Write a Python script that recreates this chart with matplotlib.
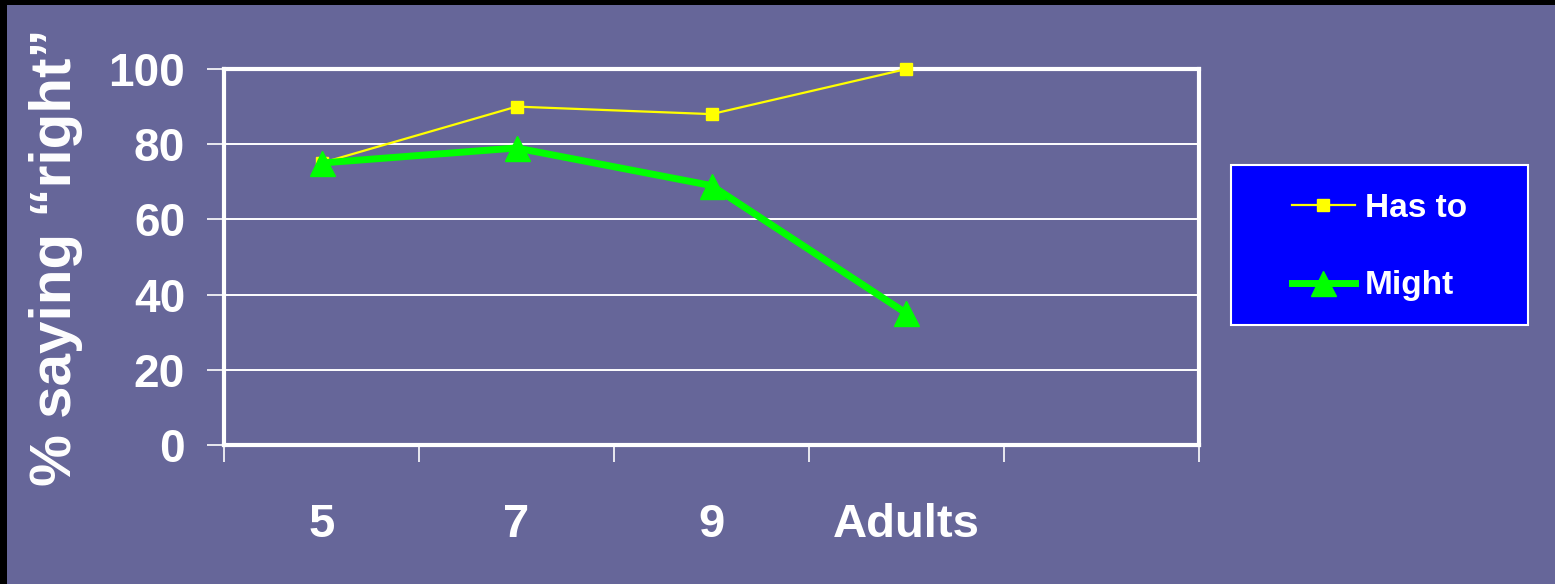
import numpy as np
import matplotlib.pyplot as plt
from matplotlib.patches import Rectangle
from matplotlib.lines import Line2D

plt.rcParams['font.family'] = ['Liberation Sans', 'DejaVu Sans']
plt.rcParams['font.weight'] = 'bold'

# 数据
groups = ['5', '7', '9', 'Adults', '']
has_to = [75, 90, 88, 100]
might = [75, 79, 69, 35]
yticks = [0, 20, 40, 60, 80, 100]

bg = '#666699'
W, H = 1555, 584

fig = plt.figure(figsize=(W / 100, H / 100), dpi=100, facecolor=bg)
ax = fig.add_axes([224 / W, 1 - 445 / H, (1199 - 224) / W, (445 - 69) / H])
ax.set_facecolor(bg)

x = np.arange(len(has_to))
ax.plot(x, has_to, color='#ffff00', lw=1.6, marker='s', ms=8,
        mfc='#ffff00', mec='#ffff00', zorder=3, clip_on=False)
ax.plot(x, might, color='#00ff00', lw=5, marker='^', ms=18,
        mfc='#00ff00', mec='#00ff00', zorder=4, clip_on=False)

ax.set_xlim(-0.5, len(groups) - 0.5)
ax.set_ylim(0, 100)

# 网格和坐标轴
ax.set_yticks(yticks)
ax.set_yticklabels([str(v) for v in yticks], fontsize=33, color='white', fontweight='bold')
ax.yaxis.grid(True, color='white', lw=1.4)
ax.set_axisbelow(True)
ax.tick_params(axis='y', length=12, width=1.2, color='white', pad=16)

ax.set_xticks(np.arange(len(groups) + 1) - 0.5)
ax.set_xticklabels([])
ax.set_xticks(np.arange(len(groups)), minor=True)
ax.set_xticklabels(groups, minor=True, fontsize=34, color='white', fontweight='bold')
ax.tick_params(axis='x', which='major', length=12, width=1.2, color='white')
ax.tick_params(axis='x', which='minor', length=0, pad=42)

for s in ax.spines.values():
    s.set_color('white')
    s.set_linewidth(3)

fig.text(56 / W, 1 - 257 / H, '% saying \u201cright\u201d', rotation=90,
         ha='center', va='center', fontsize=42, color='white', fontweight='bold')

# 图例
lx0, lx1, ly0, ly1 = 1231, 1528, 165, 325
fig.patches.append(Rectangle((lx0 / W, 1 - ly1 / H), (lx1 - lx0) / W, (ly1 - ly0) / H,
                             transform=fig.transFigure, facecolor='#0000ff',
                             edgecolor='white', lw=1.5, zorder=5))
handles = [Line2D([], [], color='#ffff00', lw=1.6, marker='s', ms=8),
           Line2D([], [], color='#00ff00', lw=5, marker='^', ms=18)]
leg = fig.legend(handles, ['Has to', 'Might'], loc='center',
                 bbox_to_anchor=((lx0 + lx1) / 2 / W, 1 - (ly0 + ly1 + 4) / 2 / H),
                 frameon=False, fontsize=24, labelcolor='white', handlelength=1.9,
                 handletextpad=0.3, labelspacing=1.4)
leg.set_zorder(6)

# 黑边
fig.patches.append(Rectangle((0, 1 - 5 / H), 1, 5 / H, transform=fig.transFigure,
                             facecolor='black', edgecolor='none', zorder=10))
fig.patches.append(Rectangle((0, 0), 7 / W, 1, transform=fig.transFigure,
                             facecolor='black', edgecolor='none', zorder=10))

fig.savefig('out.png', dpi=100, facecolor=bg)
